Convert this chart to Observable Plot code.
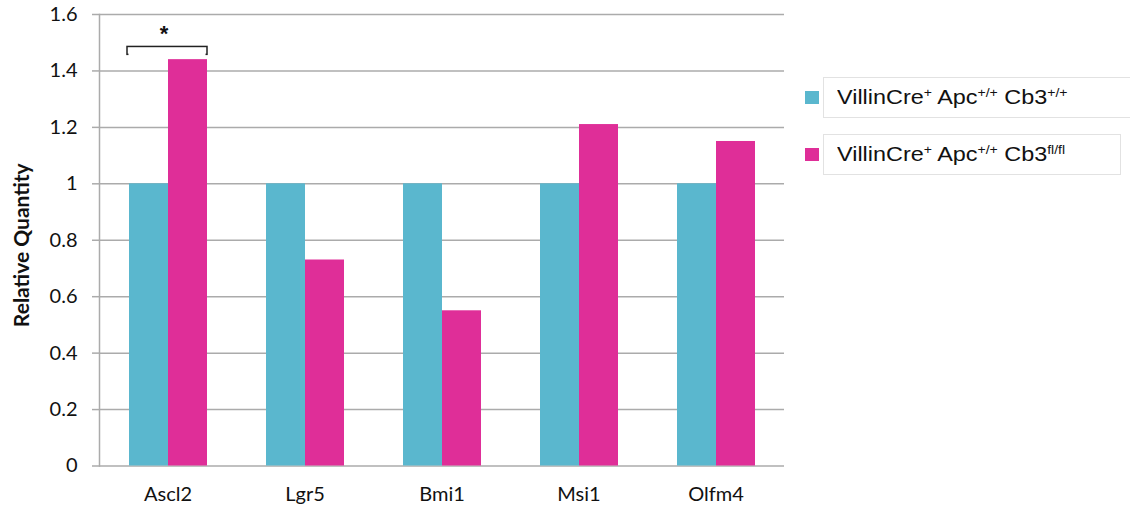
<!DOCTYPE html>
<html>
<head>
<meta charset="utf-8">
<script src="https://cdn.jsdelivr.net/npm/d3@7"></script>
<script src="https://cdn.jsdelivr.net/npm/@observablehq/plot@0.6"></script>
<style>
  html, body { margin: 0; padding: 0; background: #fff; }
  #wrap { position: relative; width: 1130px; height: 511px; }
  .legend-row {
    position: absolute; left: 805px; display: flex; align-items: center;
    font-family: "Liberation Sans", Arial, sans-serif; font-size: 20px; color: #111;
  }
  .swatch { width: 14px; height: 13px; margin-right: 4px; }
  .legend-box {
    border: 1px solid #e2e2e2; height: 41px; box-sizing: border-box;
    display: flex; align-items: center; padding-left: 13px;
  }
  .legend-box span { white-space: pre; display: inline-block; transform: scaleX(1.17); transform-origin: left center; }
  .legend-box sup { font-size: 12px; vertical-align: 0; position: relative; top: -7px; }
</style>
</head>
<body>
<div id="wrap"></div>
<script>
// Genes measured by qPCR
const genes = ["Ascl2", "Lgr5", "Bmi1", "Msi1", "Olfm4"];
// Relative expression, control set to 1
const controlValues = [1, 1, 1, 1, 1];
const knockoutValues = [1.44, 0.73, 0.55, 1.21, 1.15];
const seriesKeys = ["control", "knockout"];
const seriesColors = ["#5ab7ce", "#df2e98"];
const yTicks = [0, 0.2, 0.4, 0.6, 0.8, 1, 1.2, 1.4, 1.6];
// Significance bracket over Ascl2
const sigGene = "Ascl2";
const sigBracket = {low: 1.457, high: 1.485, star: 1.53};

const rows = genes.flatMap((g, i) => [
  {gene: g, series: seriesKeys[0], value: controlValues[i]},
  {gene: g, series: seriesKeys[1], value: knockoutValues[i]}
]);

const gridColor = "#ababab";
const tickFont = "Lato, 'Open Sans', sans-serif";

const chart = Plot.plot({
  width: 1130,
  height: 511,
  marginLeft: 98,
  marginRight: 345,
  marginTop: 14,
  marginBottom: 45.5,
  style: {fontFamily: tickFont, background: "white"},
  fx: {domain: genes, padding: 0, label: null},
  x: {domain: seriesKeys, paddingInner: 0, paddingOuter: 0.754, axis: null},
  y: {domain: [0, 1.6], ticks: yTicks, label: null},
  color: {domain: seriesKeys, range: seriesColors},
  marks: [
    Plot.ruleY(yTicks, {stroke: gridColor, strokeWidth: 1.5}),
    Plot.frame({anchor: "left", stroke: gridColor, strokeWidth: 1.5, facetAnchor: "left"}),
    Plot.axisY({
      ticks: yTicks, tickSize: 7, tickPadding: 15, stroke: gridColor, strokeWidth: 1.5,
      fontSize: 20, fill: "#111", tickFormat: d => String(d), label: null
    }),
    Plot.axisFx({anchor: "bottom", tickSize: 0, tickPadding: 21, fontSize: 20, fill: "#111", label: null}),
    Plot.barY(rows, {fx: "gene", x: "series", y: "value", fill: "series"}),
    // bracket: stroked box with its lower edge masked out
    Plot.rect([sigGene], {
      fx: d => d, x1: () => seriesKeys[0], x2: () => seriesKeys[1],
      y1: sigBracket.low, y2: sigBracket.high,
      fill: "none", stroke: "#222", strokeWidth: 1.5, insetLeft: -2
    }),
    Plot.rect([sigGene], {
      fx: d => d, x1: () => seriesKeys[0], x2: () => seriesKeys[1],
      y1: sigBracket.low - 0.008, y2: sigBracket.low + 0.006,
      fill: "white", insetLeft: -0.5, insetRight: 1.5
    }),
    Plot.text(["*"], {
      fx: () => sigGene, y: sigBracket.star, dx: -4,
      fontSize: 22, fontWeight: "bold", fill: "#111", fontFamily: "Liberation Sans, Arial, sans-serif"
    }),
    Plot.text(["Relative Quantity"], {
      frameAnchor: "left", textAnchor: "middle", dx: -77, dy: 5, rotate: -90,
      fontSize: 21, fontWeight: "bold", fill: "#111", facetAnchor: "left"
    })
  ]
});

const wrap = document.getElementById("wrap");
wrap.appendChild(chart);

// legend to the right of the plot
const legendItems = [
  {color: seriesColors[0], html: "VillinCre<sup>+</sup> Apc<sup>+/+</sup> Cb3<sup>+/+</sup>", top: 77, boxWidth: 320},
  {color: seriesColors[1], html: "VillinCre<sup>+</sup> Apc<sup>+/+</sup> Cb3<sup>fl/fl</sup>", top: 134, boxWidth: 298}
];
for (const item of legendItems) {
  const row = document.createElement("div");
  row.className = "legend-row";
  row.style.top = item.top + "px";
  const sw = document.createElement("div");
  sw.className = "swatch";
  sw.style.background = item.color;
  const box = document.createElement("div");
  box.className = "legend-box";
  box.style.width = item.boxWidth + "px";
  const label = document.createElement("span");
  label.innerHTML = item.html;
  box.appendChild(label);
  row.appendChild(sw);
  row.appendChild(box);
  wrap.appendChild(row);
}
</script>
</body>
</html>
